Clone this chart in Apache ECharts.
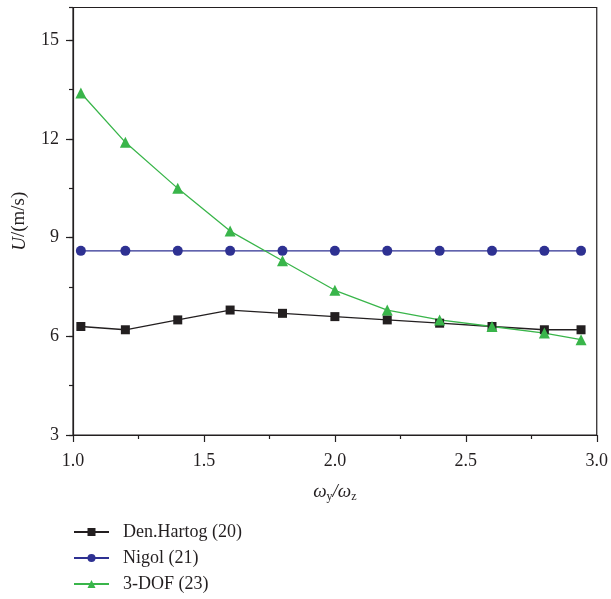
<!DOCTYPE html>
<html>
<head>
<meta charset="utf-8">
<script src="https://cdn.jsdelivr.net/npm/echarts@6/dist/echarts.min.js"></script>
<style>
  html, body { margin: 0; padding: 0; background: #fff; }
  #chart { width: 611px; height: 599px; }
</style>
</head>
<body>
<div id="chart"></div>
<script>
// frequency ratio wy/wz
const ratio = [1.03, 1.2, 1.4, 1.6, 1.8, 2.0, 2.2, 2.4, 2.6, 2.8, 2.94];
// critical wind speed U (m/s)
const denHartog = [6.3, 6.2, 6.5, 6.8, 6.7, 6.6, 6.5, 6.4, 6.3, 6.2, 6.2];
const nigol = [8.6, 8.6, 8.6, 8.6, 8.6, 8.6, 8.6, 8.6, 8.6, 8.6, 8.6];
const dof3 = [13.4, 11.9, 10.5, 9.2, 8.3, 7.4, 6.8, 6.5, 6.3, 6.1, 5.9];
const seriesNames = ["Den.Hartog (20)", "Nigol (21)", "3-DOF (23)"];

const font = "Liberation Serif";
const ink = "#231f20";

const pairs = (ys) => ratio.map((x, i) => [x, ys[i]]);

const chart = echarts.init(document.getElementById("chart"));

chart.setOption({
  animation: false,
  textStyle: { fontFamily: font },
  grid: {
    left: 73, right: 13, top: 7.5, bottom: 164,
    show: true, borderColor: ink, borderWidth: 1.2
  },
  legend: {
    orient: "vertical",
    left: 68,
    top: 518,
    itemWidth: 35,
    itemHeight: 10,
    itemGap: 8,
    textStyle: { fontFamily: font, fontSize: 18, color: ink, padding: [0, 0, 0, 9] },
    data: seriesNames
  },
  xAxis: {
    type: "value",
    min: 1, max: 3, interval: 0.5,
    name: "ω{s|y}/ω{s|z}",
    nameLocation: "middle",
    nameGap: 46,
    nameTextStyle: {
      fontFamily: font, fontSize: 19, color: ink, fontStyle: "italic",
      rich: { s: { fontSize: 12, fontStyle: "normal", verticalAlign: "bottom", padding: [10, 0, 0, 0], fontFamily: font, color: ink } }
    },
    axisLine: { lineStyle: { color: ink, width: 1.2 } },
    axisTick: { length: 7, lineStyle: { color: ink, width: 1.2 } },
    minorTick: { show: true, splitNumber: 2, length: 4, lineStyle: { color: ink, width: 1.2 } },
    splitLine: { show: false },
    axisLabel: { fontSize: 18, color: ink, margin: 17, formatter: (v) => v.toFixed(1) }
  },
  yAxis: [
    {
      type: "value",
      position: "left",
      min: 3, max: 16, interval: 3,
      name: "{i|U}/(m/s)",
      nameLocation: "middle",
      nameGap: 44,
      nameTextStyle: {
        fontFamily: font, fontSize: 19, color: ink,
        rich: { i: { fontStyle: "italic", fontSize: 19, fontFamily: font, color: ink } }
      },
      axisLine: { show: true, lineStyle: { color: ink, width: 1.2 } },
      axisTick: { show: true, length: 7, lineStyle: { color: ink, width: 1.2 } },
      splitLine: { show: false },
      axisLabel: { fontSize: 18, color: ink, margin: 14, showMaxLabel: false }
    },
    {
      // minor ticks every 1.5
      type: "value",
      position: "left",
      min: 3, max: 16, interval: 1.5,
      axisLine: { show: false },
      axisTick: { show: true, length: 4, lineStyle: { color: ink, width: 1.2 } },
      splitLine: { show: false },
      axisLabel: { show: false }
    }
  ],
  series: [
    {
      name: seriesNames[0], type: "line", data: pairs(denHartog),
      symbol: "rect", symbolSize: 9,
      itemStyle: { color: ink }, lineStyle: { color: ink, width: 1.3 }
    },
    {
      name: seriesNames[1], type: "line", data: pairs(nigol),
      symbol: "circle", symbolSize: 10,
      itemStyle: { color: "#2e3192" }, lineStyle: { color: "#2e3192", width: 1.3 }
    },
    {
      name: seriesNames[2], type: "line", data: pairs(dof3),
      symbol: "triangle", symbolSize: 11,
      itemStyle: { color: "#39b54a" }, lineStyle: { color: "#39b54a", width: 1.3 }
    }
  ]
});
</script>
</body>
</html>
